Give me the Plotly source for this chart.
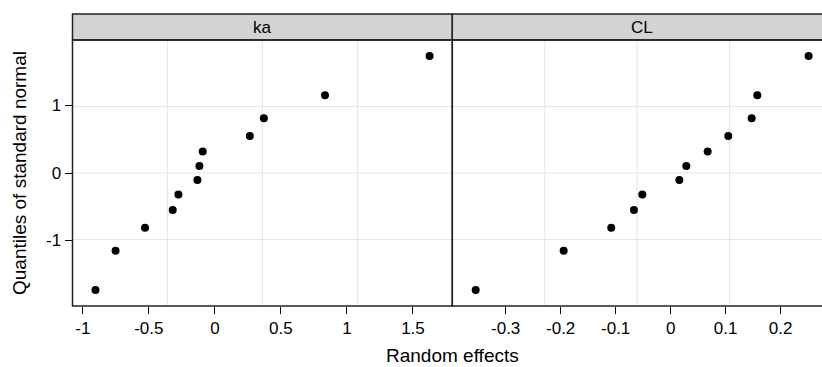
import plotly.graph_objects as go

# Data
panels = ["ka", "CL"]
normal_quantiles = [-1.732, -1.150, -0.812, -0.549, -0.319, -0.105,
                    0.105, 0.319, 0.549, 0.812, 1.150, 1.732]
ka_effects = [-0.904, -0.752, -0.529, -0.319, -0.276, -0.132,
              -0.117, -0.092, 0.265, 0.371, 0.834, 1.626]
cl_effects = [-0.3545, -0.1945, -0.108, -0.0667, -0.0515, 0.0158,
              0.0285, 0.0673, 0.1048, 0.1473, 0.1576, 0.2509]
ka_ticks = [-1, -0.5, 0, 0.5, 1, 1.5]
ka_ticktext = ["-1", "-0.5", "0", "0.5", "1", "1.5"]
cl_ticks = [-0.3, -0.2, -0.1, 0, 0.1, 0.2]
cl_ticktext = ["-0.3", "-0.2", "-0.1", "0", "0.1", "0.2"]
y_ticks = [-1, 0, 1]
y_ticktext = ["-1", "0", "1"]

W, H = 822, 367
FONT = "Liberation Sans, Arial, sans-serif"
TICK_SIZE = 17
TITLE_SIZE = 19
STRIP_SIZE = 17

x1_dom = [72.5 / W, 452.3 / W]
x2_dom = [452.3 / W, 1.0]
y_dom = [(H - 306) / H, (H - 40) / H]
strip_top = (H - 14) / H

fig = go.Figure()
fig.add_trace(go.Scatter(x=ka_effects, y=normal_quantiles, mode="markers",
                         marker=dict(color="black", size=8), xaxis="x", yaxis="y",
                         showlegend=False))
fig.add_trace(go.Scatter(x=cl_effects, y=normal_quantiles, mode="markers",
                         marker=dict(color="black", size=8), xaxis="x2", yaxis="y2",
                         showlegend=False))

axis_common = dict(showgrid=False, zeroline=False, showline=False, ticks="outside",
                   ticklen=7, tickcolor="black", tickwidth=1,
                   tickfont=dict(family=FONT, size=TICK_SIZE, color="black"))

fig.update_layout(
    width=W, height=H,
    margin=dict(l=0, r=0, t=0, b=0),
    paper_bgcolor="white", plot_bgcolor="white",
    font=dict(family=FONT, color="black"),
    xaxis=dict(domain=x1_dom, range=[-1.078, 1.798], tickvals=ka_ticks,
               ticktext=ka_ticktext, anchor="y", **axis_common),
    xaxis2=dict(domain=x2_dom, range=[-0.397, 0.2752], tickvals=cl_ticks,
                ticktext=cl_ticktext, anchor="y2", **axis_common),
    yaxis=dict(domain=y_dom, range=[-1.97, 1.97], tickvals=y_ticks,
               ticktext=y_ticktext, anchor="x", **axis_common),
    yaxis2=dict(domain=y_dom, range=[-1.97, 1.97], anchor="x2",
                showticklabels=False, ticks="", showgrid=False, zeroline=False),
)

shapes = []
for xr, yr in [("x domain", "y domain"), ("x2 domain", "y2 domain")]:
    for f in [0.25, 0.5, 0.75]:
        shapes.append(dict(type="line", xref=xr, yref=yr, x0=f, x1=f, y0=0, y1=1,
                           line=dict(color="#e6e6e6", width=1), layer="below"))
        shapes.append(dict(type="line", xref=xr, yref=yr, x0=0, x1=1, y0=f, y1=f,
                           line=dict(color="#e6e6e6", width=1), layer="below"))

strip_centers = [(x1_dom[0] + x1_dom[1]) / 2, (452.3 + 832) / 2 / W]
for dom, right, label, cx in [(x1_dom, x1_dom[1], panels[0], strip_centers[0]),
                              (x2_dom, 1.02, panels[1], strip_centers[1])]:
    shapes.append(dict(type="rect", xref="paper", yref="paper",
                       x0=dom[0], x1=right, y0=y_dom[0], y1=y_dom[1],
                       line=dict(color="#222222", width=1.5), fillcolor="rgba(0,0,0,0)"))
    shapes.append(dict(type="rect", xref="paper", yref="paper",
                       x0=dom[0], x1=right, y0=y_dom[1], y1=strip_top,
                       line=dict(color="#222222", width=1.5), fillcolor="#d3d3d3",
                       layer="below"))
    fig.add_annotation(x=cx, y=(y_dom[1] + strip_top) / 2, xref="paper", yref="paper",
                       xanchor="center", yanchor="middle",
                       text=label, showarrow=False,
                       font=dict(family=FONT, size=STRIP_SIZE, color="black"))

fig.update_layout(shapes=shapes)

fig.add_annotation(x=(72.5 + 832) / 2 / W, y=(H - 355) / H, xref="paper", yref="paper",
                   xanchor="center", yanchor="middle",
                   text="Random effects", showarrow=False,
                   font=dict(family=FONT, size=TITLE_SIZE, color="black"))
fig.add_annotation(x=19 / W, y=(y_dom[0] + y_dom[1]) / 2, xref="paper", yref="paper",
                   xanchor="center", yanchor="middle",
                   text="Quantiles of standard normal", showarrow=False, textangle=-90,
                   font=dict(family=FONT, size=TITLE_SIZE, color="black"))

fig.write_html("out.html", config={"displayModeBar": False},
               post_script="document.body.style.margin='0px';")
